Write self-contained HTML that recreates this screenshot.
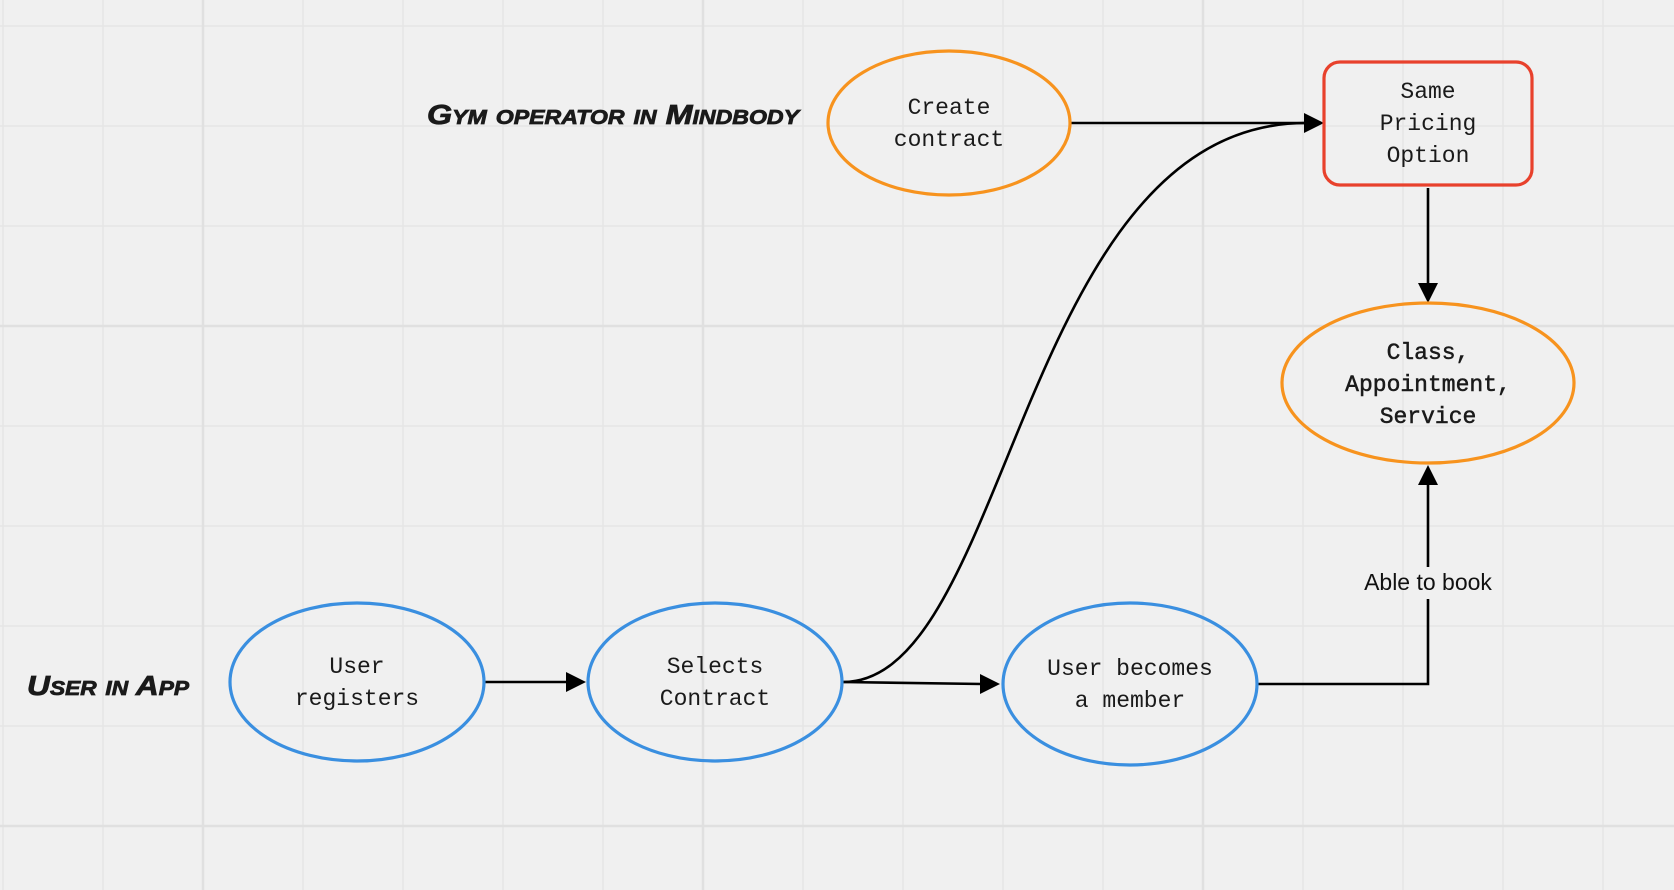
<!DOCTYPE html>
<html><head><meta charset="utf-8"><style>
html,body{margin:0;padding:0;background:#f0f0f0;}
svg{display:block;}
.mono{font-family:"Liberation Mono",monospace;font-size:23px;fill:#1a1a1a;}
.hand{font-family:"Liberation Sans",sans-serif;font-weight:bold;font-style:italic;font-variant:small-caps;fill:#1a1a1a;}
</style></head><body>
<svg width="1674" height="890" viewBox="0 0 1674 890" xmlns="http://www.w3.org/2000/svg">
<rect width="1674" height="890" fill="#f0f0f0"/>
<g stroke="#e6e6e6" stroke-width="1.5">
<line x1="3" y1="0" x2="3" y2="890"/><line x1="103" y1="0" x2="103" y2="890"/><line x1="303" y1="0" x2="303" y2="890"/><line x1="403" y1="0" x2="403" y2="890"/><line x1="503" y1="0" x2="503" y2="890"/><line x1="603" y1="0" x2="603" y2="890"/><line x1="803" y1="0" x2="803" y2="890"/><line x1="903" y1="0" x2="903" y2="890"/><line x1="1003" y1="0" x2="1003" y2="890"/><line x1="1103" y1="0" x2="1103" y2="890"/><line x1="1303" y1="0" x2="1303" y2="890"/><line x1="1403" y1="0" x2="1403" y2="890"/><line x1="1503" y1="0" x2="1503" y2="890"/><line x1="1603" y1="0" x2="1603" y2="890"/>
<line x1="0" y1="26" x2="1674" y2="26"/><line x1="0" y1="126" x2="1674" y2="126"/><line x1="0" y1="226" x2="1674" y2="226"/><line x1="0" y1="426" x2="1674" y2="426"/><line x1="0" y1="526" x2="1674" y2="526"/><line x1="0" y1="626" x2="1674" y2="626"/><line x1="0" y1="726" x2="1674" y2="726"/>
</g>
<g stroke="#e0e0e0" stroke-width="2.5">
<line x1="203" y1="0" x2="203" y2="890"/><line x1="703" y1="0" x2="703" y2="890"/><line x1="1203" y1="0" x2="1203" y2="890"/>
<line x1="0" y1="326" x2="1674" y2="326"/><line x1="0" y1="826" x2="1674" y2="826"/>
</g>

<text class="hand" x="427" y="124" font-size="28" textLength="372" lengthAdjust="spacingAndGlyphs" stroke="#1a1a1a" stroke-width="0.8">Gym operator in Mindbody</text>
<text class="hand" x="27" y="695" font-size="28" textLength="162" lengthAdjust="spacingAndGlyphs" stroke="#1a1a1a" stroke-width="0.8">User in App</text>

<g stroke="#000" stroke-width="2.6" fill="none">
<line x1="1071" y1="123" x2="1306" y2="123"/>
<path d="M843,682 C1010,682 1020,123 1306,123"/>
<line x1="485" y1="682" x2="568" y2="682"/>
<line x1="843" y1="682" x2="982" y2="684"/>
<line x1="1428" y1="188" x2="1428" y2="285"/>
<path d="M1258,684 L1428,684 L1428,599"/>
<line x1="1428" y1="567" x2="1428" y2="483"/>
</g>
<g fill="#000">
<polygon points="1324,123 1304,113 1304,133"/>
<polygon points="586,682 566,672 566,692"/>
<polygon points="1000,684 980,674 980,694"/>
<polygon points="1428,303 1418,283 1438,283"/>
<polygon points="1428,465 1418,485 1438,485"/>
</g>
<text x="1428" y="590" text-anchor="middle" font-family="Liberation Sans, sans-serif" font-size="23" fill="#111">Able to book</text>

<g fill="none" stroke-width="3.2">
<ellipse cx="949" cy="123" rx="121" ry="72" stroke="#f7931e"/>
<rect x="1324" y="62" width="208" height="123" rx="16" stroke="#e8412c"/>
<ellipse cx="1428" cy="383" rx="146" ry="80" stroke="#f7931e"/>
<ellipse cx="357" cy="682" rx="127" ry="79" stroke="#3a8fe0"/>
<ellipse cx="715" cy="682" rx="127" ry="79" stroke="#3a8fe0"/>
<ellipse cx="1130" cy="684" rx="127" ry="81" stroke="#3a8fe0"/>
</g>
<g class="mono" text-anchor="middle">
<text x="949" y="114">Create</text><text x="949" y="146">contract</text>
<text x="1428" y="98">Same</text><text x="1428" y="130">Pricing</text><text x="1428" y="162">Option</text>
<g stroke="#1a1a1a" stroke-width="0.5"><text x="1428" y="359">Class,</text><text x="1428" y="391">Appointment,</text><text x="1428" y="423">Service</text></g>
<text x="357" y="673">User</text><text x="357" y="705">registers</text>
<text x="715" y="673">Selects</text><text x="715" y="705">Contract</text>
<text x="1130" y="675">User becomes</text><text x="1130" y="707">a member</text>
</g>
</svg>
</body></html>
